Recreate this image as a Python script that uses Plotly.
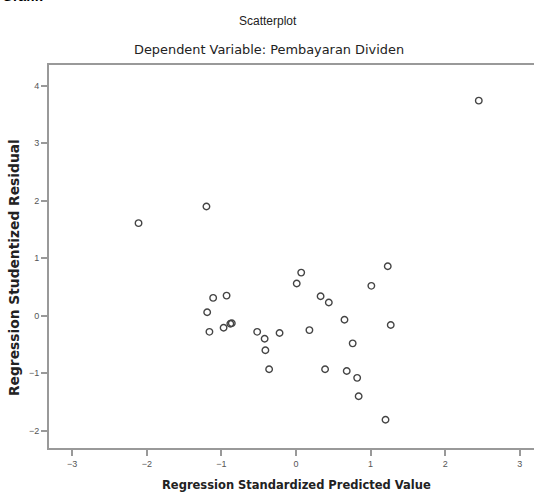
import plotly.graph_objects as go

# Regression Standardized Predicted Value
pred = [-2.11, -1.20, -1.11, -0.93, -1.19, -1.16, -0.97, -0.88, -0.86, -0.52,
        -0.42, -0.41, -0.36, -0.22, 0.07, 0.01, 1.23, 1.01, 0.33, 0.44,
        0.65, 1.27, 0.18, 0.76, 0.39, 0.68, 0.82, 0.84, 1.20, 2.45]
# Regression Studentized Residual
resid = [1.61, 1.90, 0.31, 0.35, 0.06, -0.28, -0.21, -0.14, -0.13, -0.28,
         -0.40, -0.60, -0.93, -0.30, 0.75, 0.56, 0.86, 0.52, 0.34, 0.23,
         -0.07, -0.16, -0.25, -0.48, -0.93, -0.96, -1.08, -1.40, -1.81, 3.74]

x_ticks = [-3, -2, -1, 0, 1, 2, 3]
y_ticks = [-2, -1, 0, 1, 2, 3, 4]

W, H = 534, 493
L, T, B, R = 49, 65, 45, 0
pw, ph = W - L - R, H - T - B

def px(xpix):
    return (xpix - L) / pw

def py(ypix):
    return (H - B - ypix) / ph

fig = go.Figure()
fig.add_trace(go.Scatter(
    x=pred, y=resid, mode="markers",
    marker=dict(symbol="circle-open", size=6.5, color="#444444",
                line=dict(width=1.4, color="#444444")),
    showlegend=False, hoverinfo="skip"))

axis_common = dict(showgrid=False, zeroline=False, showline=True,
                   linecolor="#999999", linewidth=2, ticks="outside",
                   ticklen=6, tickwidth=1.5, tickcolor="#999999",
                   tickfont=dict(family="Liberation Sans", size=9, color="#555555"))

fig.update_xaxes(range=[-3.31, 3.19], tickvals=x_ticks, mirror=True, **axis_common)
fig.update_yaxes(range=[-2.30, 4.36], tickvals=y_ticks, **axis_common)

annotations = [
    dict(text="<b>Grafik</b>", x=px(0), y=py(6), xanchor="left", yanchor="bottom",
         font=dict(family="Liberation Sans", size=14, color="#000000"),
         showarrow=False),
    dict(text="Scatterplot", x=px(268), y=py(21), xanchor="center",
         yanchor="middle",
         font=dict(family="Liberation Sans", size=12, color="#222222"),
         showarrow=False),
    dict(text="Dependent Variable: Pembayaran Dividen", x=px(269), y=py(50),
         xanchor="center", yanchor="middle",
         font=dict(family="DejaVu Sans", size=12.9, color="#222222"),
         showarrow=False),
    dict(text="<b>Regression Standardized Predicted Value</b>", x=px(296), y=py(485),
         xanchor="center", yanchor="middle",
         font=dict(family="DejaVu Sans", size=11.5, color="#222222"),
         showarrow=False),
    dict(text="<b>Regression Studentized Residual</b>", x=px(14), y=py(268),
         xanchor="center", yanchor="middle", textangle=-90,
         font=dict(family="DejaVu Sans", size=13.8, color="#222222"),
         showarrow=False),
]
for a in annotations:
    a["xref"] = "paper"
    a["yref"] = "paper"

fig.update_layout(
    width=W, height=H,
    margin=dict(l=L, r=R, t=T, b=B),
    paper_bgcolor="white", plot_bgcolor="white",
    annotations=annotations,
)

fig.write_html("out.html", config={"displayModeBar": False},
               post_script="document.body.style.margin='0';document.body.style.overflow='hidden';")
